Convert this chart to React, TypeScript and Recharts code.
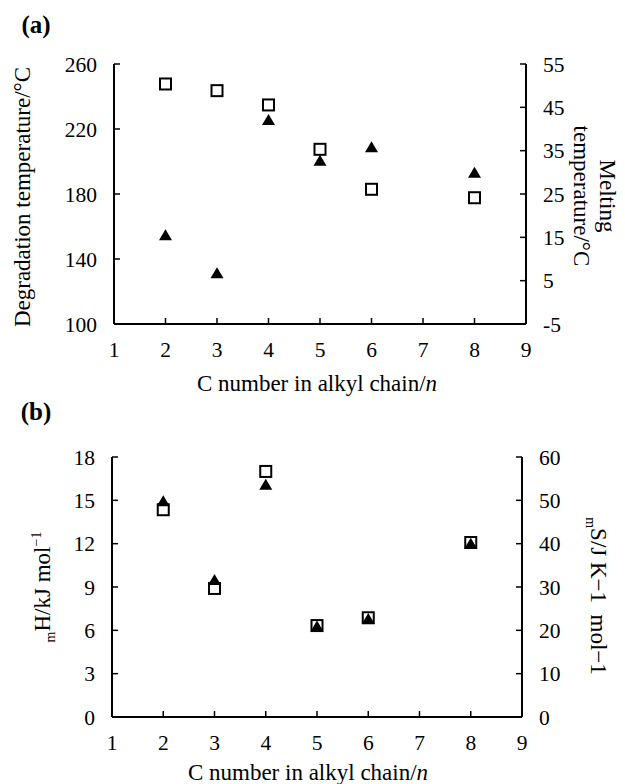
import React from 'react';
import { ScatterChart, Scatter, XAxis, YAxis } from 'recharts';

// C number in alkyl chain
const cNumbers = [2, 3, 4, 5, 6, 8];
// panel (a)
const degradationTemp = [247.7, 243.6, 234.8, 207.5, 182.9, 177.7];
const meltingTemp = [15.5, 6.7, 42.1, 32.7, 35.8, 29.9];
// panel (b)
const fusionEnthalpy = [14.35, 8.9, 17.0, 6.33, 6.87, 12.08];
const fusionEntropy = [49.8, 31.6, 53.6, 20.9, 22.6, 40.0];

const xTicks = [1, 2, 3, 4, 5, 6, 7, 8, 9];
const degTicks = [100, 140, 180, 220, 260];
const meltTicks = [-5, 5, 15, 25, 35, 45, 55];
const hTicks = [0, 3, 6, 9, 12, 15, 18];
const sTicks = [0, 10, 20, 30, 40, 50, 60];

const FONT = "'Liberation Serif', 'Times New Roman', Times, serif";
const TICK_FS = 21.5;
const TITLE_FS = 23;
const MARGIN = 17;
const TICK_LEN = 6;

const toPoints = (ys: number[]) => cNumbers.map((x, i) => ({ x, y: ys[i] }));

const LeftTick = (props: any) => {
  const { x, y, payload } = props;
  return (
    <g>
      <line x1={x + MARGIN} x2={x + MARGIN + TICK_LEN} y1={y} y2={y} stroke="#000" strokeWidth={1.5} />
      <text x={x} y={y} dy="0.35em" textAnchor="end" fontSize={TICK_FS} fontFamily={FONT} fill="#000">
        {payload.value}
      </text>
    </g>
  );
};

const RightTick = (props: any) => {
  const { x, y, payload } = props;
  return (
    <g>
      <line x1={x - MARGIN} x2={x - MARGIN - TICK_LEN} y1={y} y2={y} stroke="#000" strokeWidth={1.5} />
      <text x={x} y={y} dy="0.35em" textAnchor="start" fontSize={TICK_FS} fontFamily={FONT} fill="#000">
        {payload.value}
      </text>
    </g>
  );
};

const BottomTick = (props: any) => {
  const { x, y, payload } = props;
  return (
    <g>
      <line x1={x} x2={x} y1={y - MARGIN} y2={y - MARGIN - TICK_LEN} stroke="#000" strokeWidth={1.5} />
      <text x={x} y={y} dy="0.75em" textAnchor="middle" fontSize={TICK_FS} fontFamily={FONT} fill="#000">
        {payload.value}
      </text>
    </g>
  );
};

const SquareMark = (props: any) => {
  const { cx, cy } = props;
  return <rect x={cx - 5.5} y={cy - 5.5} width={11} height={11} fill="#fff" stroke="#000" strokeWidth={2} />;
};

const TriangleMark = (props: any) => {
  const { cx, cy } = props;
  return <polygon points={`${cx},${cy - 6} ${cx - 6.5},${cy + 5} ${cx + 6.5},${cy + 5}`} fill="#000" />;
};

const axisLine = { stroke: '#000', strokeWidth: 2 };

const rotated = (left: number, top: number, deg: number): React.CSSProperties => ({
  position: 'absolute',
  left,
  top,
  transform: `translate(-50%, -50%) rotate(${deg}deg)`,
  whiteSpace: 'nowrap',
  fontSize: TITLE_FS,
  fontFamily: FONT,
  textAlign: 'center',
  lineHeight: '26px',
});

const plain = (left: number, top: number, extra: React.CSSProperties = {}): React.CSSProperties => ({
  position: 'absolute',
  left,
  top,
  transform: 'translate(-50%, -50%)',
  whiteSpace: 'nowrap',
  fontSize: TITLE_FS,
  fontFamily: FONT,
  ...extra,
});

export default function App() {
  return (
    <div style={{ position: 'absolute', left: 0, top: 0, width: 625, height: 784, background: '#fff', overflow: 'hidden', fontFamily: FONT }}>
      <div style={plain(36, 25, { fontWeight: 'bold', fontSize: 25 })}>(a)</div>
      <div style={{ position: 'absolute', left: 0, top: 0 }}>
        <ScatterChart width={625} height={400} margin={{ top: 64, right: 0, bottom: 0, left: 0 }}>
          <XAxis dataKey="x" type="number" domain={[1, 9]} ticks={xTicks} height={76} tickSize={0} tickMargin={MARGIN} tickLine={false} axisLine={axisLine} tick={<BottomTick />} />
          <YAxis yAxisId="deg" dataKey="y" type="number" domain={[100, 260]} ticks={degTicks} width={114} tickSize={0} tickMargin={MARGIN} tickLine={false} axisLine={axisLine} tick={<LeftTick />} />
          <YAxis yAxisId="melt" orientation="right" dataKey="y" type="number" domain={[-5, 55]} ticks={meltTicks} width={99} tickSize={0} tickMargin={MARGIN} tickLine={false} axisLine={axisLine} tick={<RightTick />} />
          <Scatter yAxisId="deg" data={toPoints(degradationTemp)} shape={SquareMark} isAnimationActive={false} />
          <Scatter yAxisId="melt" data={toPoints(meltingTemp)} shape={TriangleMark} isAnimationActive={false} />
        </ScatterChart>
      </div>
      <div style={rotated(23, 197, -90)}>Degradation temperature/°C</div>
      <div style={rotated(594, 196, 90)}>
        Melting
        <br />
        temperature/°C
      </div>
      <div style={plain(317, 384)}>
        C number in alkyl chain/<i>n</i>
      </div>

      <div style={plain(36, 412, { fontWeight: 'bold', fontSize: 25 })}>(b)</div>
      <div style={{ position: 'absolute', left: 0, top: 400 }}>
        <ScatterChart width={625} height={384} margin={{ top: 57, right: 0, bottom: 0, left: 0 }}>
          <XAxis dataKey="x" type="number" domain={[1, 9]} ticks={xTicks} height={67} tickSize={0} tickMargin={MARGIN} tickLine={false} axisLine={axisLine} tick={<BottomTick />} />
          <YAxis yAxisId="h" dataKey="y" type="number" domain={[0, 18]} ticks={hTicks} width={112} tickSize={0} tickMargin={MARGIN} tickLine={false} axisLine={axisLine} tick={<LeftTick />} />
          <YAxis yAxisId="s" orientation="right" dataKey="y" type="number" domain={[0, 60]} ticks={sTicks} width={103} tickSize={0} tickMargin={MARGIN} tickLine={false} axisLine={axisLine} tick={<RightTick />} />
          <Scatter yAxisId="h" data={toPoints(fusionEnthalpy)} shape={SquareMark} isAnimationActive={false} />
          <Scatter yAxisId="s" data={toPoints(fusionEntropy)} shape={TriangleMark} isAnimationActive={false} />
        </ScatterChart>
      </div>
      <div style={rotated(44, 587, -90)}>
        <sub style={{ fontSize: 14 }}>m</sub>H/kJ mol<sup style={{ fontSize: 14 }}>−1</sup>
      </div>
      <div style={rotated(594, 596, 90)}>
        <sub style={{ fontSize: 14 }}>m</sub>S/J K−1&nbsp;&nbsp;mol−1
      </div>
      <div style={plain(308, 773)}>
        C number in alkyl chain/<i>n</i>
      </div>
    </div>
  );
}
